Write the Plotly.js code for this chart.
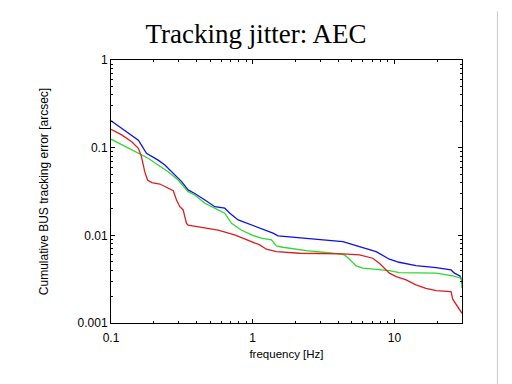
<!DOCTYPE html>
<html>
<head>
<meta charset="utf-8">
<script src="https://cdn.plot.ly/plotly-3.0.1.min.js"></script>
<style>html,body{margin:0;padding:0;background:#fff;}#chart{width:512px;height:384px;}</style>
</head>
<body>
<div id="chart"></div>
<script>
// Blue series
const blueFreq = [0.1, 0.12, 0.14, 0.156, 0.178, 0.194, 0.215, 0.24, 0.282, 0.315, 0.35, 0.39, 0.46, 0.54, 0.635, 0.69, 0.79, 0.98, 1.22, 1.39, 1.51, 2.81, 4.33, 5.67, 7.43, 9.22, 10.8, 14.2, 19.7, 25.1, 26.5, 29.0, 29.8, 30];
const blueVals = [0.203, 0.166, 0.14, 0.122, 0.0863, 0.080, 0.072, 0.0635, 0.0488, 0.041, 0.033, 0.030, 0.0253, 0.0212, 0.0204, 0.0179, 0.015, 0.0132, 0.0115, 0.0106, 0.00985, 0.00903, 0.00848, 0.00743, 0.00652, 0.00534, 0.00493, 0.00452, 0.00428, 0.00403, 0.0037, 0.00344, 0.0031, 0.0028];
// Green series
const greenFreq = [0.1, 0.126, 0.156, 0.183, 0.215, 0.253, 0.298, 0.35, 0.39, 0.46, 0.57, 0.635, 0.708, 0.83, 0.98, 1.15, 1.355, 1.47, 1.63, 2.39, 3.68, 4.45, 4.82, 5.37, 5.98, 7.43, 9.22, 10.8, 19.7, 25.8, 29.8, 30];
const greenVals = [0.125, 0.1026, 0.0863, 0.0757, 0.0635, 0.0532, 0.0428, 0.0315, 0.0289, 0.0232, 0.0195, 0.0179, 0.0137, 0.0115, 0.0101, 0.00927, 0.00887, 0.00757, 0.00731, 0.0067, 0.00625, 0.00598, 0.00534, 0.00448, 0.00422, 0.0041, 0.00396, 0.00376, 0.0037, 0.00344, 0.00324, 0.0025];
// Red series
const redFreq = [0.1, 0.119, 0.14, 0.156, 0.164, 0.173, 0.181, 0.194, 0.221, 0.247, 0.275, 0.29, 0.306, 0.323, 0.341, 0.35, 0.435, 0.57, 0.746, 0.927, 1.12, 1.25, 1.47, 2.14, 4.33, 5.67, 7.03, 7.83, 9.22, 10.3, 12.1, 14.2, 16.7, 19.7, 25.1, 25.8, 27.9, 30];
const redVals = [0.162, 0.14, 0.117, 0.0985, 0.079, 0.0532, 0.0428, 0.0399, 0.0385, 0.0353, 0.0323, 0.0253, 0.0212, 0.0195, 0.0137, 0.0131, 0.0124, 0.0115, 0.0101, 0.00887, 0.00778, 0.00695, 0.00652, 0.00625, 0.00614, 0.00598, 0.00548, 0.00481, 0.0037, 0.00338, 0.0031, 0.00272, 0.00249, 0.00234, 0.00228, 0.00187, 0.00154, 0.00129];

// Tick labels
const xTickVals = [0.1, 1, 10];
const xTickText = ["0.1", "1", "10"];
const yTickVals = [1, 0.1, 0.01, 0.001];
const yTickText = ["1", "0.1", "0.01", "0.001"];
const xMinorVals = [0.2,0.3,0.4,0.5,0.6,0.7,0.8,0.9,2,3,4,5,6,7,8,9,20,30];
const yMinorVals = [0.002,0.003,0.004,0.005,0.006,0.007,0.008,0.009,0.02,0.03,0.04,0.05,0.06,0.07,0.08,0.09,0.2,0.3,0.4,0.5,0.6,0.7,0.8,0.9];

const lineW = 1.3;
const traces = [
  {x: blueFreq, y: blueVals, mode: 'lines', line: {color: '#1010e6', width: lineW}},
  {x: greenFreq, y: greenVals, mode: 'lines', line: {color: '#2ed82e', width: lineW}},
  {x: redFreq, y: redVals, mode: 'lines', line: {color: '#dc1e1e', width: lineW}}
];

const axisFont = {family: 'Liberation Sans, Arial, sans-serif', size: 12, color: '#000'};
const layout = {
  width: 512, height: 384,
  margin: {l: 111, r: 50, t: 60, b: 61},
  paper_bgcolor: '#fff', plot_bgcolor: '#fff',
  showlegend: false,
  title: {text: 'Tracking jitter: AEC', font: {family: 'Liberation Serif, Times New Roman, serif', size: 27, color: '#000'},
          x: 0.5, xref: 'container', xanchor: 'center', y: 0.912, yref: 'container', yanchor: 'middle'},
  xaxis: {
    type: 'log', range: [-1, Math.log10(30)],
    tickmode: 'array', tickvals: xTickVals, ticktext: xTickText,
    ticks: 'inside', ticklen: 4, tickwidth: 1, tickcolor: '#000',
    ticklabelstandoff: 4,
    minor: {tickmode: 'array', tickvals: xMinorVals, ticks: 'inside', ticklen: 2, tickwidth: 1, tickcolor: '#000', showgrid: false},
    showline: true, linecolor: '#000', linewidth: 1, mirror: 'ticks',
    showgrid: false, zeroline: false,
    tickfont: axisFont,
    title: {text: 'frequency [Hz]', font: {family: 'Liberation Sans, Arial, sans-serif', size: 11.5, color: '#000'}, standoff: 5}
  },
  yaxis: {
    type: 'log', range: [-3, 0],
    tickmode: 'array', tickvals: yTickVals, ticktext: yTickText,
    ticks: 'inside', ticklen: 4, tickwidth: 1, tickcolor: '#000',
    minor: {tickmode: 'array', tickvals: yMinorVals, ticks: 'inside', ticklen: 2, tickwidth: 1, tickcolor: '#000', showgrid: false},
    showline: true, linecolor: '#000', linewidth: 1, mirror: 'ticks',
    showgrid: false, zeroline: false,
    tickfont: axisFont,
    title: {text: 'Cumulative BUS tracking error [arcsec]', font: {family: 'Liberation Sans, Arial, sans-serif', size: 12, color: '#000'}, standoff: 26}
  },
  shapes: [
    {type: 'line', xref: 'paper', yref: 'paper', x0: 1.101, x1: 1.101, y0: -0.24, y1: 1.185,
     line: {color: '#c8c8c8', width: 1}}
  ]
};

Plotly.newPlot('chart', traces, layout, {displayModeBar: false, staticPlot: true});
</script>
</body>
</html>
